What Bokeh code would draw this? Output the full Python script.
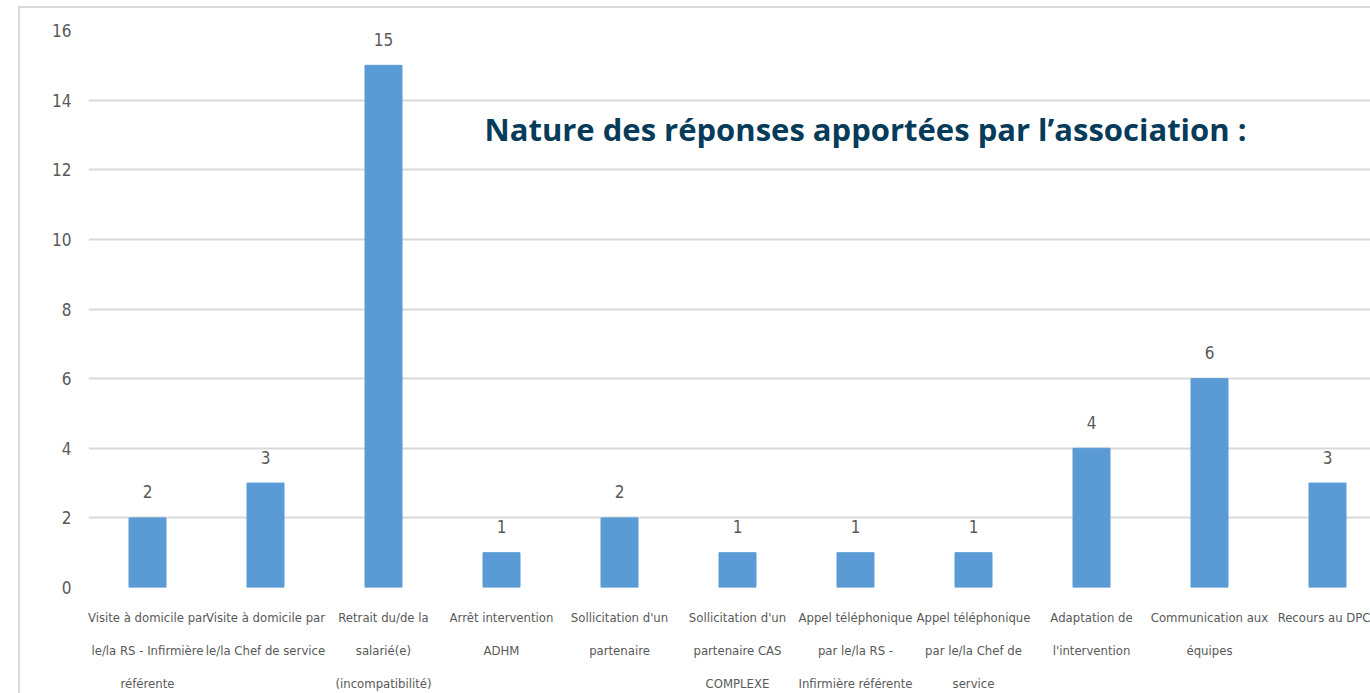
from bokeh.plotting import figure
from bokeh.models import FixedTicker, Range1d, Label
from bokeh.core.properties import value
from bokeh.embed import file_html
from bokeh.resources import INLINE

categories = [
    "Visite à domicile par\nle/la RS - Infirmière\nréférente",
    "Visite à domicile par\nle/la Chef de service",
    "Retrait du/de la\nsalarié(e)\n(incompatibilité)",
    "Arrêt intervention\nADHM",
    "Sollicitation d'un\npartenaire",
    "Sollicitation d'un\npartenaire CAS\nCOMPLEXE",
    "Appel téléphonique\npar le/la RS -\nInfirmière référente",
    "Appel téléphonique\npar le/la Chef de\nservice",
    "Adaptation de\nl'intervention",
    "Communication aux\néquipes",
    "Recours au DPC",
]
values = [2, 3, 15, 1, 2, 1, 1, 1, 4, 6, 3]
y_ticks = [0, 2, 4, 6, 8, 10, 12, 14, 16]
title_text = "Nature des réponses apportées par l\u2019association :"

FONT = "'DejaVu Sans Condensed', 'Liberation Sans Narrow', 'Roboto Condensed', Roboto, sans-serif"
GRAY = "#595959"

xs = [i + 0.5 for i in range(len(categories))]

FW, FH = 1282, 557
p = figure(frame_width=FW, frame_height=FH, output_backend="svg", toolbar_location=None,
           x_range=Range1d(0, FW / 118.0), y_range=Range1d(0, 16),
           min_border_left=68, min_border_right=0, min_border_top=22,
           min_border_bottom=60)
p.styles = {"margin-left": "18px", "margin-top": "6px",
            "border-left": "2px solid #d9d9d9", "border-top": "2px solid #d9d9d9"}
p.outline_line_color = None
p.background_fill_color = "white"
p.border_fill_color = "white"

p.vbar(x=xs, top=values, width=37 / 118.0, color="#5B9BD5")
p.text(x=xs, y=values, text=[str(v) for v in values], y_offset=-26,
       text_align="center", text_baseline="middle", text_color=GRAY,
       text_font=value(FONT), text_font_size="17px")

p.xgrid.visible = False
p.ygrid.ticker = FixedTicker(ticks=y_ticks)
p.ygrid.grid_line_color = "#d9d9d9"
p.ygrid.grid_line_width = 2
p.ygrid.level = "underlay"

p.yaxis.ticker = FixedTicker(ticks=y_ticks)
p.yaxis.axis_line_color = None
p.yaxis.major_tick_line_color = None
p.yaxis.minor_tick_line_color = None
p.yaxis.major_label_text_font = FONT
p.yaxis.major_label_text_font_size = "17px"
p.yaxis.major_label_text_color = GRAY
p.yaxis.major_label_standoff = 11

p.xaxis.ticker = FixedTicker(ticks=xs)
p.xaxis.major_label_overrides = {x: c for x, c in zip(xs, categories)}
p.xaxis.axis_line_color = None
p.xaxis.major_tick_line_color = None
p.xaxis.minor_tick_line_color = None
p.xaxis.major_label_text_font = FONT
p.xaxis.major_label_text_font_size = "13px"
p.xaxis.major_label_text_color = GRAY
p.xaxis.major_label_text_line_height = 2.2
p.xaxis.major_label_standoff = 16

p.add_layout(Label(x=(484 - 88) / 118.0, y=(587 - 129) / 34.81, text=title_text,
                   text_font="Open Sans", text_font_style="bold", text_font_size="31px",
                   text_color="#073b5a", text_baseline="alphabetic"))

open("out.html", "w").write(file_html(p, INLINE))
